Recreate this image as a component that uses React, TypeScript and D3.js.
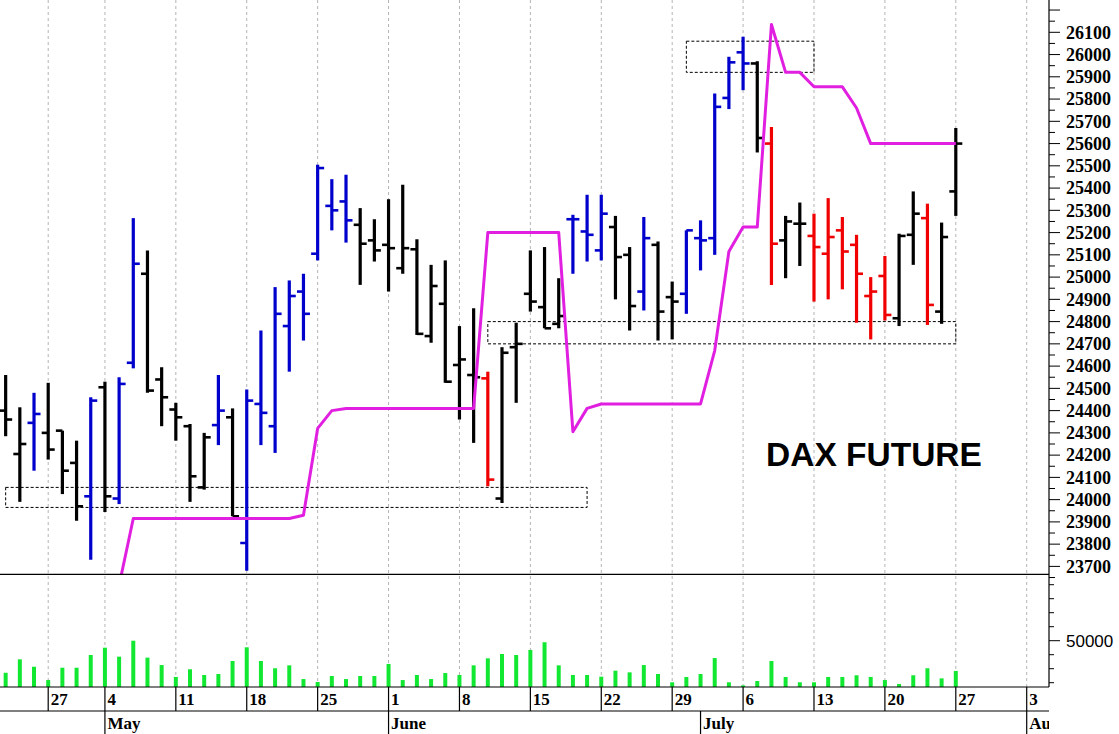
import React from "react";
import * as d3 from "d3";

// ---- data (bar index 0 = first bar on the chart) ----
const firstIndex = -3;
const opens = [24400,24205,24345,24300,24310,24165,24015,24505,24005,24615,25015,24540,24405,24330,24055,24335,24370,23805,24430,24330,24780,24935,25105,25320,25340,25235,25165,25145,25040,25125,24735,24880,24605,24560,24545,24005,24685,24925,24865,24790,25260,25205,25120,25225,25100,24935,25145,24910,24925,25175,25175,25805,26010,25960,25600,25165,25240,25185,25105,25210,25145,24915,25005,24815,25190,25265,24845,25385];
const highs = [24560,24415,24480,24525,24310,24265,24460,24530,24550,25265,25120,24595,24435,24340,24300,24560,24410,24495,24760,24955,24985,25015,25505,25440,25460,25310,25260,25350,25415,25170,25055,25075,24780,24860,24575,24685,24795,25120,25135,24995,25280,25370,25370,25275,25135,25270,25160,24980,25210,25255,25825,25990,26080,25970,25675,25275,25335,25285,25355,25270,25190,25000,25095,25195,25385,25330,25245,25670];
const lows = [24285,23990,24130,24180,24025,23905,23730,23945,23980,24590,24480,24330,24265,23990,24045,24245,23925,23680,24245,24210,24575,24715,25075,25210,25155,24965,25070,24935,25015,24740,24705,24525,24360,24255,24060,23985,24435,24845,24770,24770,25015,25070,25075,24900,24760,24850,24715,24720,24835,25030,25100,25755,25840,25560,24965,24995,25050,24890,24900,24945,24795,24720,24805,24780,25055,24785,24790,25275];
const closes = [24360,24250,24385,24225,24130,23970,24445,24015,24520,25060,24490,24460,24370,24105,24280,24400,23925,24445,24390,24835,24915,24835,25490,25300,25255,25150,25120,25130,25130,24745,24960,24530,24630,24550,24090,24660,24700,24890,24770,24825,25260,25190,25285,25090,24870,25175,24845,24890,25210,25165,25765,25965,25960,25625,25150,25250,25240,25135,25180,25115,25015,24935,24830,25185,25285,24875,25180,25600];
const barColors = ["k","k","b","k","k","k","b","k","b","b","k","k","k","k","k","b","k","b","b","b","b","b","b","b","b","k","k","k","k","k","k","k","k","k","r","k","k","k","k","k","b","b","b","k","k","b","k","k","b","b","b","b","b","k","r","k","k","r","r","r","r","r","r","k","k","r","k","k"];
const trail = [null,null,null,null,null,null,null,null,23615,23915,23915,23915,23915,23915,23915,23915,23915,23915,23915,23915,23915,23930,24320,24400,24410,24410,24410,24410,24410,24410,24410,24410,24410,24410,25200,25200,25200,25200,25200,25200,24305,24410,24430,24430,24430,24430,24430,24430,24430,24430,24670,25115,25225,25225,26135,25920,25920,25855,25855,25855,25760,25600,25600,25600,25600,25600,25600,25600];
const volumes = [27100,36700,31400,21900,30700,30700,39800,45000,38600,50000,37900,32600,24100,29600,25500,26200,35500,45300,35500,30300,32400,22600,20500,24800,22600,24800,24800,33400,21900,25500,22600,26900,25500,32400,37400,40500,39800,43400,48900,32400,25500,25500,24300,28600,27400,32600,26200,20300,24100,26200,37600,20300,18100,21200,35500,24100,20300,20300,24100,24100,25300,24100,21900,19100,25300,30300,23100,28400];

const weekTickIdx = [0,4,9,14,19,24,29,34,39,44,49,54,59,64,69];
const weekTickLabels = ["27","4","11","18","25","1","8","15","22","29","6","13","20","27","3"];
const monthIdx = [4,24,46,69];
const monthLabels = ["May","June","July","Aug"];

const boxStart = [-3,31,45];
const boxEnd = [38,64,54];
const boxHigh = [24055,24800,26060];
const boxLow = [23965,24700,25920];

const priceTicks = d3.range(23700, 26101, 100);
const priceMinor = d3.range(23650, 26201, 50);
const volMinor = d3.range(20000, 90001, 10000);
const volLabels = [50000];
const title = "DAX FUTURE";

const colorMap: Record<string, string> = { k: "#000000", b: "#0000cc", r: "#f00000" };

export default function App() {
  const W = 1119, H = 734;
  const axisX = 1049;
  const priceBottom = 574.3;
  const volBottom = 687;
  const row2 = 711;

  const x = d3.scaleLinear().domain([0, 64]).range([48.2, 955.8]);
  const y = d3.scaleLinear().domain([23700, 26100]).range([566.4, 32.3]);
  const yv = d3.scaleLinear().domain([0, 100000]).range([710.7, 570.7]);

  const bars = opens.map((o, k) => ({
    i: k + firstIndex, o, h: highs[k], l: lows[k], c: closes[k], col: colorMap[barColors[k]],
  }));
  const trailPts = trail.map((t, k) => ({ i: k + firstIndex, t })).filter(d => d.t !== null) as { i: number; t: number }[];
  const line = d3.line<{ i: number; t: number }>().x(d => x(d.i)).y(d => y(d.t));

  const serif = "'Liberation Serif', 'Times New Roman', serif";
  const sans = "'Liberation Sans', Arial, sans-serif";

  return (
    <div style={{ position: "fixed", left: 0, top: 0 }}>
      <svg width={W} height={H} xmlns="http://www.w3.org/2000/svg" style={{ display: "block", background: "#fff" }}>
        <defs>
          <clipPath id="pclip"><rect x={0} y={0} width={axisX} height={priceBottom} /></clipPath>
          <clipPath id="aclip"><rect x={0} y={0} width={axisX} height={H} /></clipPath>
        </defs>
        <rect x={0} y={0} width={W} height={H} fill="#fff" />

        {/* vertical dashed grid */}
        {weekTickIdx.map((t, k) => (
          <line key={"g" + k} x1={x(t)} x2={x(t)} y1={0} y2={volBottom} stroke="#b4b4b4" strokeWidth={1} strokeDasharray="3,3" />
        ))}

        <text x={766} y={466} fontFamily={sans} fontWeight="bold" fontSize={33.5} fill="#000">{title}</text>

        <g clipPath="url(#pclip)">
          {/* dashed boxes */}
          {boxStart.map((s, k) => (
            <rect key={"b" + k} x={x(s)} y={y(boxHigh[k])} width={x(boxEnd[k]) - x(s)} height={y(boxLow[k]) - y(boxHigh[k])}
              fill="none" stroke="#000" strokeWidth={1} strokeDasharray="3,2" />
          ))}
          {/* OHLC bars */}
          {bars.map(b => {
            const cx = x(b.i);
            return (
              <g key={"bar" + b.i} stroke={b.col}>
                <line x1={cx} x2={cx} y1={y(b.h)} y2={y(b.l)} strokeWidth={3.2} />
                <line x1={cx - 6.5} x2={cx} y1={y(b.o)} y2={y(b.o)} strokeWidth={2.6} />
                <line x1={cx} x2={cx + 6.5} y1={y(b.c)} y2={y(b.c)} strokeWidth={2.6} />
              </g>
            );
          })}
          <path d={line(trailPts) || ""} fill="none" stroke="#e11fe0" strokeWidth={3} strokeLinejoin="round" />
        </g>

        {/* volume bars */}
        {volumes.map((v, k) => {
          const i = k + firstIndex;
          return <line key={"v" + k} x1={x(i)} x2={x(i)} y1={volBottom} y2={yv(v)} stroke="#12e832" strokeWidth={4} />;
        })}

        {/* panel frames */}
        <line x1={0} x2={axisX} y1={priceBottom} y2={priceBottom} stroke="#000" strokeWidth={1.2} />
        <line x1={axisX} x2={axisX} y1={0} y2={volBottom} stroke="#000" strokeWidth={1.2} />
        <line x1={0} x2={axisX} y1={volBottom} y2={volBottom} stroke="#000" strokeWidth={1.2} />
        <line x1={0} x2={axisX} y1={row2} y2={row2} stroke="#000" strokeWidth={1.2} />

        {/* price axis */}
        {priceMinor.map(p => (
          <line key={"pm" + p} x1={axisX} x2={axisX + (p % 100 === 0 ? 11 : 6)} y1={y(p)} y2={y(p)} stroke="#000" strokeWidth={1} />
        ))}
        {priceTicks.map(p => (
          <text key={"pl" + p} x={1066} y={y(p)} dy="0.35em" fontFamily={serif} fontWeight="bold" fontSize={18} fill="#000">{p}</text>
        ))}

        {/* volume axis */}
        {volMinor.map(v => (
          <line key={"vm" + v} x1={axisX} x2={axisX + (v === 50000 ? 11 : 5)} y1={yv(v)} y2={yv(v)} stroke="#000" strokeWidth={1} />
        ))}
        {volLabels.map(v => (
          <text key={"vl" + v} x={1066} y={yv(v)} dy="0.36em" fontFamily={sans} fontSize={17} fill="#000">{v}</text>
        ))}

        {/* date axis */}
        <g clipPath="url(#aclip)">
          {weekTickIdx.map((t, k) => (
            <g key={"w" + k}>
              <line x1={x(t)} x2={x(t)} y1={volBottom} y2={row2} stroke="#000" strokeWidth={1.2} />
              <text x={x(t) + 2.5} y={705} fontFamily={serif} fontWeight="bold" fontSize={17} fill="#000">{weekTickLabels[k]}</text>
            </g>
          ))}
          {monthIdx.map((m, k) => (
            <g key={"m" + k}>
              <line x1={x(m)} x2={x(m)} y1={row2} y2={H} stroke="#000" strokeWidth={1.2} />
              <text x={x(m) + 2.5} y={728.5} fontFamily={serif} fontWeight="bold" fontSize={17} fill="#000">{monthLabels[k]}</text>
            </g>
          ))}
        </g>
      </svg>
    </div>
  );
}
